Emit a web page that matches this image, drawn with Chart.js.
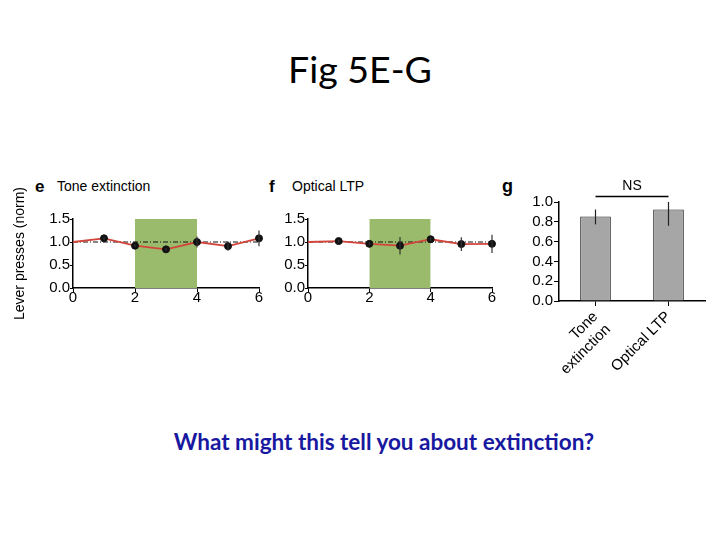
<!DOCTYPE html>
<html><head><meta charset="utf-8">
<script src="https://cdn.jsdelivr.net/npm/chart.js@4"></script>
<style>
html,body{margin:0;padding:0;background:#fff;}
body{width:720px;height:540px;position:relative;overflow:hidden;font-family:"Liberation Sans",Arial,sans-serif;}
canvas{position:absolute;}
.t{position:absolute;white-space:nowrap;line-height:1;}
</style></head><body>
<div class="t" style="left:0;width:720px;top:45px;line-height:48px;text-align:center;font-family:Lato;font-size:37.5px;color:#000;">Fig 5E-G</div>
<div class="t" style="left:0;width:768px;top:428px;line-height:28px;text-align:center;font-family:Lato;font-weight:bold;font-size:22.5px;color:#1818a0;">What might this tell you about extinction?</div>
<div class="t" style="left:35px;top:178px;font-weight:bold;font-size:17px;">e</div>
<div class="t" style="left:57px;top:179px;font-size:14px;">Tone extinction</div>
<div class="t" style="left:269px;top:178px;font-weight:bold;font-size:17px;">f</div>
<div class="t" style="left:292px;top:179px;font-size:14px;">Optical LTP</div>
<div class="t" style="left:502px;top:177px;font-weight:bold;font-size:18px;">g</div>
<canvas id="ce" width="270" height="150" style="left:0;top:175px;width:270px;height:150px;"></canvas>
<canvas id="cf" width="240" height="150" style="left:270px;top:175px;width:240px;height:150px;"></canvas>
<canvas id="cg" width="215" height="230" style="left:505px;top:170px;width:215px;height:230px;"></canvas>
<script>
// ---- data ----
const sessionX = [0, 1, 2, 3, 4, 5, 6];
const toneValues = [1.0, 1.08, 0.92, 0.84, 1.0, 0.91, 1.08];
const toneErr = [0, 0.03, 0.03, 0.03, 0.12, 0.1, 0.17];
const optValues = [1.0, 1.02, 0.96, 0.92, 1.06, 0.955, 0.96];
const optErr = [0, 0.03, 0.03, 0.19, 0.04, 0.15, 0.2];
const xTickValues = [0, 2, 4, 6];
const lineYTicks = [0, 0.5, 1.0, 1.5];
const stimWindow = [2, 4];
const stimHeight = 1.5;
const baselineLevel = 1.0;
const yAxisTitle = 'Lever presses (norm)';
const barCategories = [['Tone', 'extinction'], 'Optical LTP'];
const barValues = [0.854, 0.925];
const barErrUp = [0.07, 0.075];
const barErrDown = [0.08, 0.165];
const barYTicks = [0, 0.2, 0.4, 0.6, 0.8, 1.0];
const nsLabel = 'NS';
const nsLevel = 1.055;

const BLACK = '#000';
const FONT = 'Liberation Sans';

const errPlugin = {
  id: 'errbars',
  afterDatasetsDraw(chart, args, o) {
    if (!o || !o.vals) return;
    const {ctx, scales} = chart;
    const xs = scales.x, ys = scales.y;
    ctx.save();
    ctx.strokeStyle = o.color || '#222';
    ctx.lineWidth = o.width || 1.2;
    o.vals.forEach((v, i) => {
      const up = o.up[i], dn = o.down[i];
      if (!up && !dn) return;
      const x = o.category ? xs.getPixelForValue(i) : xs.getPixelForValue(o.xs[i]);
      ctx.beginPath();
      ctx.moveTo(x, ys.getPixelForValue(v + up));
      ctx.lineTo(x, ys.getPixelForValue(v - dn));
      ctx.stroke();
    });
    ctx.restore();
  }
};

function lineChart(id, values, errs, yWidth, padRight, withTitle) {
  const pts = sessionX.map((x, i) => ({x, y: values[i]}));
  return new Chart(document.getElementById(id), {
    type: 'line',
    data: {
      datasets: [
        {data: pts, showLine: false, pointRadius: sessionX.map((x, i) => i === 0 ? 0 : 3.5),
         pointBackgroundColor: '#111', pointBorderColor: '#111', order: 0, clip: false},
        {data: pts, borderColor: '#d3453b', borderWidth: 1.8, pointRadius: 0, order: 1, clip: false},
        {data: [{x: sessionX[0], y: baselineLevel}, {x: sessionX[sessionX.length - 1], y: baselineLevel}],
         borderColor: '#111', borderWidth: 1, borderDash: [5, 2, 1, 2], pointRadius: 0, order: 2},
        {data: [{x: stimWindow[0], y: stimHeight}, {x: stimWindow[1], y: stimHeight}],
         fill: 'origin', backgroundColor: '#9aba6c', borderWidth: 0, pointRadius: 0, order: 3}
      ]
    },
    options: {
      animation: false, responsive: false, devicePixelRatio: 1,
      layout: {padding: {left: 0, right: padRight, top: 44, bottom: 0}},
      plugins: {legend: {display: false}, tooltip: {enabled: false},
        errbars: {vals: values, up: errs, down: errs, xs: sessionX, color: '#333', width: 1.2}},
      scales: {
        x: {type: 'linear', min: 0, max: 6,
          afterBuildTicks: s => { s.ticks = xTickValues.map(v => ({value: v})); },
          afterFit: s => { s.height = 37; },
          grid: {drawOnChartArea: false, drawTicks: true, tickLength: 4, color: BLACK, lineWidth: 1},
          border: {color: BLACK, width: 1.5},
          ticks: {color: BLACK, font: {family: FONT, size: 15}, padding: -3, maxRotation: 0, autoSkip: false}},
        y: {min: 0, max: 1.5,
          afterBuildTicks: s => { s.ticks = lineYTicks.map(v => ({value: v})); },
          afterFit: s => { s.width = yWidth; },
          grid: {drawOnChartArea: false, drawTicks: true, tickLength: 3, color: BLACK, lineWidth: 1},
          border: {color: BLACK, width: 1.5},
          title: {display: withTitle, text: yAxisTitle, color: BLACK, font: {family: FONT, size: 14}, padding: {top: 12, bottom: 0}},
          ticks: {color: BLACK, font: {family: FONT, size: 15}, padding: 0, autoSkip: false, callback: v => Number(v).toFixed(1)}}
      }
    },
    plugins: [errPlugin]
  });
}

lineChart('ce', toneValues, toneErr, 73, 11, true);
lineChart('cf', optValues, optErr, 38, 18, false);

const nsPlugin = {
  id: 'ns',
  afterDraw(chart) {
    const {ctx, scales} = chart;
    const x0 = scales.x.getPixelForValue(0), x1 = scales.x.getPixelForValue(1);
    const y = scales.y.getPixelForValue(nsLevel);
    ctx.save();
    ctx.strokeStyle = BLACK; ctx.lineWidth = 1.5;
    ctx.beginPath(); ctx.moveTo(x0, y); ctx.lineTo(x1, y); ctx.stroke();
    ctx.fillStyle = BLACK; ctx.font = '14px "' + FONT + '"';
    ctx.textAlign = 'center'; ctx.textBaseline = 'bottom';
    ctx.fillText(nsLabel, (x0 + x1) / 2, y - 3);
    ctx.restore();
  }
};

new Chart(document.getElementById('cg'), {
  type: 'bar',
  data: {labels: barCategories,
    datasets: [{data: barValues, backgroundColor: '#a6a6a6', borderColor: '#222', borderWidth: 1,
      categoryPercentage: 1, barPercentage: 0.42}]},
  options: {
    animation: false, responsive: false, devicePixelRatio: 1,
    layout: {padding: {left: 0, right: 15, top: 32, bottom: 0}},
    plugins: {legend: {display: false}, tooltip: {enabled: false},
      errbars: {vals: barValues, up: barErrUp, down: barErrDown, category: true, color: '#222', width: 1.2}},
    scales: {
      x: {offset: true,
        afterFit: s => { s.height = 99; },
        grid: {offset: false, drawOnChartArea: false, drawTicks: true, tickLength: 5, color: BLACK},
        border: {color: BLACK, width: 1.5},
        ticks: {color: BLACK, font: {family: FONT, size: 15}, minRotation: 45, maxRotation: 45, padding: 2, autoSkip: false}},
      y: {min: 0, max: 1,
        afterBuildTicks: s => { s.ticks = barYTicks.map(v => ({value: v})); },
        afterFit: s => { s.width = 54; },
        grid: {drawOnChartArea: false, drawTicks: true, tickLength: 5, color: BLACK},
        border: {color: BLACK, width: 1.5},
        ticks: {color: BLACK, font: {family: FONT, size: 15}, padding: 1, autoSkip: false, callback: v => Number(v).toFixed(1)}}
    }
  },
  plugins: [errPlugin, nsPlugin]
});
</script>
</body></html>
